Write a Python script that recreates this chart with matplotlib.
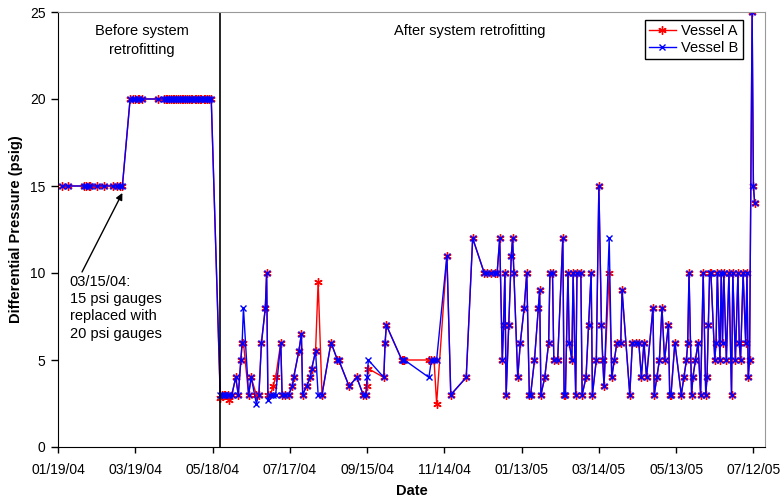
import numpy as np
import matplotlib
matplotlib.use("Agg")
import matplotlib.pyplot as plt
import matplotlib.dates as mdates

plt.rcParams['font.family'] = ['Liberation Sans', 'DejaVu Sans']

# dia 0 = 01/19/04
start = np.datetime64('2004-01-19')

# antes del retrofit (los dos recipientes iguales)
pre_days = [3, 8, 20, 22, 24, 25, 30, 36, 43, 46, 48, 50,
            56, 58, 60, 62, 63, 65, 78,
            82, 84, 85, 86, 88, 89, 90, 92, 93, 95, 96, 97, 99, 100,
            102, 103, 104, 106, 107, 109, 110, 111, 113, 114, 116, 117, 119]
pre_psi = [15]*12 + [20]*34

# despues del retrofit
post_days = [126, 127, 129, 130, 132, 133, 135, 138, 140, 142,
             143, 144, 148, 150, 154, 156, 158, 161, 162, 163,
             165, 167, 169, 173, 174, 176, 179, 182, 183, 187,
             189, 190, 193, 196, 197, 200, 202, 205, 212, 217,
             218, 226, 232, 237, 239, 240, 241, 253, 254, 255,
             267, 268, 269, 288, 290, 292, 294, 302, 305, 317,
             322, 331, 333, 336, 339, 341, 343, 345, 346, 347,
             348, 350, 352, 353, 354, 357, 359, 362, 364, 366,
             367, 370, 373, 374, 375, 378, 381, 382, 384, 385,
             388, 392, 393, 394, 396, 397, 399, 400, 402, 403,
             406, 407, 410, 412, 414, 415, 418, 420, 422, 423,
             424, 428, 430, 432, 434, 437, 438, 444, 446, 449,
             451, 453, 455, 457, 462, 463, 465, 467, 469, 471,
             474, 475, 476, 479, 484, 486, 488, 489, 490, 492,
             493, 495, 497, 499, 501, 503, 504, 505, 506, 507,
             510, 511, 512, 514, 515, 516, 517, 519, 521, 523,
             524, 526, 528, 529, 530, 532, 534, 535, 536, 537,
             539, 540, 541]

post_a = [2.8, 3, 3, 3, 3, 2.7, 3, 4, 3, 5,
          6, 6, 3, 4, 3, 3, 6, 8, 10, 3,
          3, 3.5, 4, 6, 3, 3, 3, 3.5, 4, 5.5,
          6.5, 3, 3.5, 4, 4.5, 5.5, 9.5, 3, 6, 5,
          5, 3.5, 4, 3, 3, 3.5, 4.5, 4, 6, 7,
          5, 5, 5, 5, 5, 5, 2.5, 11, 3, 4,
          12, 10, 10, 10, 10, 10, 12, 5, 7, 10,
          3, 7, 11, 12, 10, 4, 6, 8, 10, 3,
          3, 5, 8, 9, 3, 4, 6, 10, 10, 5,
          5, 12, 3, 3, 10, 6, 5, 10, 3, 10,
          10, 3, 4, 7, 10, 3, 5, 15, 7, 5,
          3.5, 10, 4, 5, 6, 6, 9, 3, 6, 6,
          6, 4, 6, 4, 8, 3, 4, 5, 8, 5,
          7, 3, 3, 6, 3, 4, 5, 6, 10, 3,
          4, 5, 6, 3, 10, 3, 4, 7, 10, 10,
          5, 6, 10, 5, 10, 6, 10, 5, 10, 3,
          10, 5, 10, 6, 5, 10, 6, 10, 4, 5,
          25, 15, 14]

post_b = [3, 3, 3, 3, 3, 3, 3, 4, 3, 5,
          6, 8, 3, 4, 2.5, 3, 6, 8, 10, 2.7,
          3, 3, 3, 6, 3, 3, 3, 3.5, 4, 5.5,
          6.5, 3, 3.5, 4, 4.5, 5.5, 3, 3, 6, 5,
          5, 3.5, 4, 3, 3, 4, 5, 4, 6, 7,
          5, 5, 5, 4, 5, 5, 5, 11, 3, 4,
          12, 10, 10, 10, 10, 10, 12, 5, 7, 10,
          3, 7, 11, 12, 10, 4, 6, 8, 10, 3,
          3, 5, 8, 9, 3, 4, 6, 10, 10, 5,
          5, 12, 3, 3, 10, 6, 5, 10, 3, 10,
          10, 3, 4, 7, 10, 3, 5, 15, 7, 5,
          3.5, 12, 4, 5, 6, 6, 9, 3, 6, 6,
          6, 4, 6, 4, 8, 3, 4, 5, 8, 5,
          7, 3, 3, 6, 3, 4, 5, 6, 10, 3,
          4, 5, 6, 3, 10, 3, 4, 7, 10, 10,
          5, 6, 10, 5, 10, 6, 10, 5, 10, 3,
          10, 5, 10, 6, 5, 10, 6, 10, 4, 5,
          25, 15, 14]

retrofit_day = 126
tick_days = [0, 60, 120, 180, 240, 300, 360, 420, 480, 540]
last_day = 549

def a_fechas(dias):
    return (start + np.array(dias, dtype='timedelta64[D]')).astype(object)

fechas = a_fechas(pre_days + post_days)
vessel_a = pre_psi + post_a
vessel_b = pre_psi + post_b

ventana = plt.figure(figsize=(7.84, 5.01), dpi=100)
plano = ventana.add_axes([58/784, 1-447/501, 707/784, 435/501])

plano.plot(fechas, vessel_a, color='#FF0000', lw=1.0, marker=(6, 2, 0), ms=6, mew=1.0, label='Vessel A')
plano.plot(fechas, vessel_b, color='#0000FF', lw=1.0, marker='x', ms=5, mew=1.0, label='Vessel B')

x_ret = a_fechas([retrofit_day])[0]
plano.axvline(x_ret, color='black', lw=1.2)

plano.set_ylim(0, 25)
plano.set_yticks([0, 5, 10, 15, 20, 25])
plano.set_xlim(a_fechas([0])[0], a_fechas([last_day])[0])
plano.set_xticks(a_fechas(tick_days))
plano.xaxis.set_major_formatter(mdates.DateFormatter('%m/%d/%y'))
plano.tick_params(labelsize=10, direction='out', width=1, colors='black')
plano.tick_params(axis='x', length=4, pad=7.5)
plano.tick_params(axis='y', length=5, pad=4)

for lado in ['top', 'right']:
    plano.spines[lado].set_color('#999999')
for lado in ['left', 'bottom']:
    plano.spines[lado].set_color('black')

plano.set_xlabel('Date', fontsize=10.5, fontweight='bold', labelpad=5)
plano.set_ylabel('Differential Pressure (psig)', fontsize=10.5, fontweight='bold', labelpad=5)

plano.text(a_fechas([65])[0], 24.3, 'Before system\nretrofitting', ha='center', va='top', fontsize=10.5, linespacing=1.4)
plano.text(a_fechas([320])[0], 24.3, 'After system retrofitting', ha='center', va='top', fontsize=10.5)
plano.annotate('03/15/04:\n15 psi gauges\nreplaced with\n20 psi gauges',
               xy=(a_fechas([50])[0], 14.6), xytext=(a_fechas([9])[0], 9.9),
               ha='left', va='top', fontsize=10.5, linespacing=1.3,
               arrowprops=dict(arrowstyle='-|>', color='black', lw=1.0, shrinkA=0, shrinkB=0,
                               relpos=(0.12, 1.0), mutation_scale=10))

leyenda = plano.legend(loc='upper right', bbox_to_anchor=(0.969, 0.982), borderaxespad=0,
                       fontsize=10.5, handlelength=1.8, fancybox=False, framealpha=1,
                       edgecolor='black', borderpad=0.3, labelspacing=0.2, handletextpad=0.4)
leyenda.get_frame().set_linewidth(1.0)

ventana.savefig('out.png', dpi=100)
